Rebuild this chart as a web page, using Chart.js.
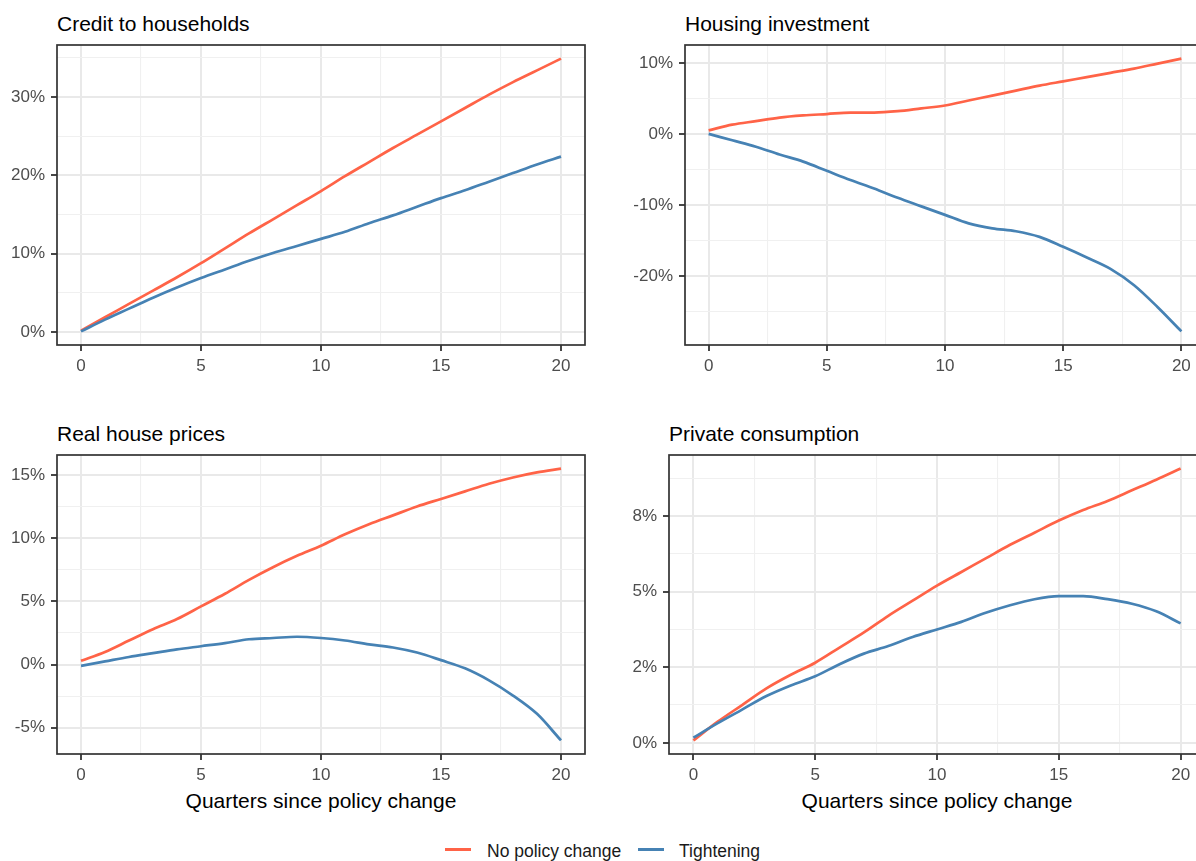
<!DOCTYPE html>
<html>
<head>
<meta charset="utf-8">
<script src="https://cdn.jsdelivr.net/npm/chart.js@4.4.0/dist/chart.umd.min.js"></script>
<style>
  html, body { margin: 0; padding: 0; background: #fff; }
  body {
    width: 1196px; height: 861px; overflow: hidden; position: relative;
    font-family: "Liberation Sans", Arial, sans-serif;
  }
  canvas { position: absolute; }
  .title, .xtitle, .ltext {
    position: absolute; white-space: nowrap; color: #000;
  }
  .title, .xtitle { font-size: 21px; line-height: 24px; }
  .xtitle { transform: translateX(-50%); }
  .ltext { font-size: 17.5px; line-height: 20px; color: #1a1a1a; }
  .key { position: absolute; width: 26px; height: 3px; }
</style>
</head>
<body>

<div class="title" style="left:57px; top:12px">Credit to households</div>
<div class="title" style="left:685px; top:12px">Housing investment</div>
<div class="title" style="left:57px; top:422px">Real house prices</div>
<div class="title" style="left:669px; top:422px">Private consumption</div>

<div class="xtitle" style="left:321px; top:789px">Quarters since policy change</div>
<div class="xtitle" style="left:937px; top:789px">Quarters since policy change</div>

<canvas id="credit" width="600" height="340" style="left:0px; top:40px"></canvas>
<canvas id="housing" width="600" height="340" style="left:620px; top:40px"></canvas>
<canvas id="prices" width="600" height="339" style="left:0px; top:450px"></canvas>
<canvas id="consumption" width="620" height="339" style="left:600px; top:450px"></canvas>

<div class="key" style="left:445px; top:848px; background:#FF6347"></div>
<div class="ltext" style="left:487px; top:841px">No policy change</div>
<div class="key" style="left:638px; top:848px; background:#4682B4"></div>
<div class="ltext" style="left:679px; top:841px">Tightening</div>

<script>
// quarters after the policy change
const quarters = [0, 1, 2, 3, 4, 5, 6, 7, 8, 9, 10, 11, 12, 13, 14, 15, 16, 17, 18, 19, 20];
const xTicks = [0, 5, 10, 15, 20];

// responses in percent, one array per series
const creditNoChange   = [0.2, 1.9, 3.6, 5.3, 7.0, 8.8, 10.7, 12.6, 14.4, 16.2, 18.0, 19.9, 21.7, 23.5, 25.2, 26.9, 28.6, 30.3, 31.9, 33.4, 34.9];
const creditTightening = [0.1, 1.6, 3.0, 4.4, 5.7, 6.9, 8.0, 9.1, 10.1, 11.0, 11.9, 12.8, 13.9, 14.9, 16.0, 17.1, 18.1, 19.2, 20.3, 21.4, 22.4];

const housingNoChange   = [0.5, 1.3, 1.8, 2.3, 2.6, 2.8, 3.0, 3.0, 3.2, 3.6, 4.0, 4.7, 5.4, 6.1, 6.8, 7.4, 8.0, 8.6, 9.2, 9.9, 10.6];
const housingTightening = [0.0, -0.9, -1.8, -2.9, -3.9, -5.2, -6.5, -7.7, -9.0, -10.2, -11.4, -12.6, -13.3, -13.7, -14.5, -15.9, -17.4, -19.0, -21.3, -24.4, -27.8];

const pricesNoChange   = [0.3, 1.0, 1.9, 2.8, 3.6, 4.6, 5.6, 6.7, 7.7, 8.6, 9.4, 10.3, 11.1, 11.8, 12.5, 13.1, 13.7, 14.3, 14.8, 15.2, 15.5];
const pricesTightening = [-0.1, 0.25, 0.6, 0.9, 1.2, 1.45, 1.7, 2.0, 2.1, 2.2, 2.1, 1.9, 1.6, 1.35, 0.95, 0.35, -0.3, -1.25, -2.45, -3.9, -6.0];

const consumptionNoChange   = [0.08, 0.7, 1.25, 1.8, 2.25, 2.65, 3.15, 3.65, 4.2, 4.7, 5.2, 5.65, 6.1, 6.55, 6.95, 7.35, 7.7, 8.0, 8.35, 8.7, 9.07];
const consumptionTightening = [0.17, 0.65, 1.1, 1.55, 1.9, 2.2, 2.6, 2.95, 3.2, 3.5, 3.75, 4.0, 4.3, 4.55, 4.75, 4.85, 4.85, 4.75, 4.6, 4.35, 3.95];

// y axis ticks and their labels
const creditTicks = [0, 10, 20, 30];
const creditTickLabels = ['0%', '10%', '20%', '30%'];
const housingTicks = [-20, -10, 0, 10];
const housingTickLabels = ['-20%', '-10%', '0%', '10%'];
const pricesTicks = [-5, 0, 5, 10, 15];
const pricesTickLabels = ['-5%', '0%', '5%', '10%', '15%'];
const consumptionTicks = [0, 2.5, 5, 7.5];
const consumptionTickLabels = ['0%', '2%', '5%', '8%'];

const RED = '#FF6347';
const BLUE = '#4682B4';

// majors plus the minor lines halfway between them (and past the ends)
function withMinors(majors, min, max) {
  const step = majors[1] - majors[0];
  const out = [];
  for (let v = majors[0] - step / 2; v >= min; v -= step) out.unshift(v);
  majors.forEach((m, i) => {
    out.push(m);
    if (i < majors.length - 1) out.push(m + step / 2);
  });
  for (let v = majors[majors.length - 1] + step / 2; v <= max; v += step) out.push(v);
  return out;
}

function gridOpts(majors) {
  const isMajor = c => c.tick && majors.includes(c.tick.value);
  return {
    color: c => isMajor(c) ? '#e9e9e9' : '#f0f0f0',
    lineWidth: c => isMajor(c) ? 2 : 1.1,
    tickColor: c => isMajor(c) ? '#333333' : 'rgba(0,0,0,0)',
    tickWidth: 1.8,
    tickLength: 6
  };
}

// grey frame around the plotting area
const panelBorder = {
  id: 'panelBorder',
  afterDraw(chart) {
    const { ctx, chartArea: a } = chart;
    ctx.save();
    ctx.strokeStyle = '#333333';
    ctx.lineWidth = 1.7;
    ctx.strokeRect(a.left, a.top, a.right - a.left, a.bottom - a.top);
    ctx.restore();
  }
};

const tickFont = { family: '"Liberation Sans", Arial, sans-serif', size: 17 };

function makePanel(id, noChange, tightening, yTicks, yLabels, yAxisWidth) {
  // 5% padding on each side of the data range
  const all = noChange.concat(tightening);
  const lo = Math.min(...all), hi = Math.max(...all);
  const pad = (hi - lo) * 0.05;
  const yMin = lo - pad, yMax = hi + pad;
  const xMin = -1, xMax = 21;

  return new Chart(document.getElementById(id), {
    type: 'line',
    data: {
      labels: quarters,
      datasets: [
        { label: 'Tightening', data: quarters.map((q, i) => ({ x: q, y: tightening[i] })), borderColor: BLUE },
        { label: 'No policy change', data: quarters.map((q, i) => ({ x: q, y: noChange[i] })), borderColor: RED }
      ]
    },
    options: {
      responsive: false,
      animation: false,
      layout: { padding: { left: 0, right: 15, top: 5, bottom: 0 } },
      elements: {
        point: { radius: 0 },
        line: { borderWidth: 2.7, cubicInterpolationMode: 'monotone', fill: false }
      },
      plugins: { legend: { display: false }, tooltip: { enabled: false } },
      scales: {
        x: {
          type: 'linear',
          min: xMin, max: xMax,
          border: { display: false },
          grid: gridOpts(xTicks),
          afterBuildTicks: s => { s.ticks = withMinors(xTicks, xMin, xMax).map(v => ({ value: v })); },
          afterFit: s => { s.height = 35; s.paddingLeft = 0; s.paddingRight = 0; },
          ticks: {
            autoSkip: false, maxRotation: 0, padding: 5,
            color: '#4d4d4d', font: tickFont,
            callback: v => xTicks.includes(v) ? String(v) : ''
          }
        },
        y: {
          min: yMin, max: yMax,
          border: { display: false },
          grid: gridOpts(yTicks),
          afterBuildTicks: s => { s.ticks = withMinors(yTicks, yMin, yMax).map(v => ({ value: v })); },
          afterFit: s => { s.width = yAxisWidth; s.paddingTop = 0; s.paddingBottom = 0; },
          ticks: {
            autoSkip: false, padding: 6,
            color: '#4d4d4d', font: tickFont,
            callback: v => { const i = yTicks.indexOf(v); return i >= 0 ? yLabels[i] : ''; }
          }
        }
      }
    },
    plugins: [panelBorder]
  });
}

makePanel('credit', creditNoChange, creditTightening, creditTicks, creditTickLabels, 57);
makePanel('housing', housingNoChange, housingTightening, housingTicks, housingTickLabels, 65);
makePanel('prices', pricesNoChange, pricesTightening, pricesTicks, pricesTickLabels, 57);
makePanel('consumption', consumptionNoChange, consumptionTightening, consumptionTicks, consumptionTickLabels, 69);
</script>
</body>
</html>
